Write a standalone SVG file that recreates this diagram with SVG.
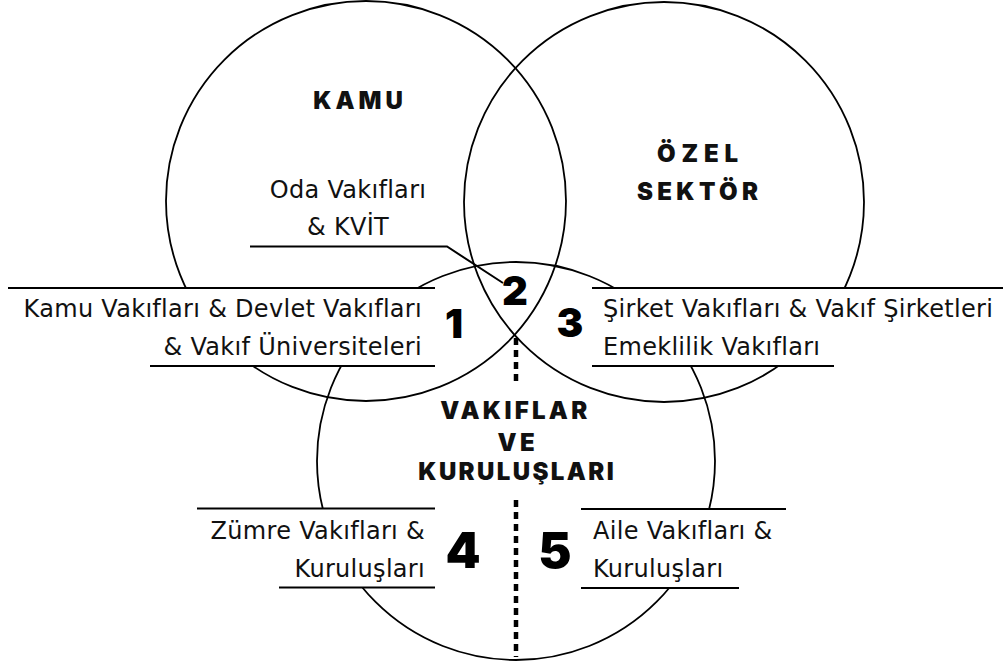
<svg xmlns="http://www.w3.org/2000/svg" width="1003" height="666" viewBox="0 0 1003 666">
<style>
.c{fill:none;stroke:#000;stroke-width:1.8}
.band{fill:#fff;stroke:none}
.r{fill:none;stroke:#000;stroke-width:2}
.t{font-family:"DejaVu Sans","Open Sans",sans-serif;font-weight:400;font-size:24px;letter-spacing:0.3px;fill:#111}
.h{font-family:Inter,"Liberation Sans",sans-serif;font-weight:900;font-size:24px;fill:#111;text-anchor:middle}
.n{font-family:Inter,"Liberation Sans",sans-serif;font-weight:900;font-size:40px;fill:#000;text-anchor:middle}
.n2{font-family:Inter,"Liberation Sans",sans-serif;font-weight:900;font-size:50px;fill:#000;text-anchor:middle}
.d{fill:none;stroke:#000;stroke-width:4.5;stroke-dasharray:7 5}
</style>
<rect width="1003" height="666" fill="#fff"/>
<g id="circles">
<circle id="kamu" class="c" cx="366" cy="201" r="200"/>
<circle id="ozel" class="c" cx="664" cy="202" r="200"/>
<circle id="vakiflar" class="c" cx="516" cy="461" r="199"/>
</g>
<g id="connectors">
<rect class="band" x="8" y="288" width="427" height="78"/>
<rect class="band" x="592" y="288" width="411" height="78"/>
<rect class="band" x="197" y="509" width="238" height="79"/>
<rect class="band" x="581" y="509" width="205" height="79"/>
<path class="r" d="M250,246.5 H447 L503,283"/>
<line class="r" x1="8" y1="288" x2="435" y2="288"/>
<line class="r" x1="150" y1="366" x2="435" y2="366"/>
<line class="r" x1="592" y1="288" x2="1003" y2="288"/>
<line class="r" x1="592" y1="366" x2="834" y2="366"/>
<line class="r" x1="197" y1="508.5" x2="435" y2="508.5"/>
<line class="r" x1="279" y1="587.5" x2="435" y2="587.5"/>
<line class="r" x1="581" y1="509" x2="786" y2="509"/>
<line class="r" x1="581" y1="588" x2="739" y2="588"/>
<line class="d" x1="516" y1="338" x2="516" y2="382"/>
<line class="d" x1="516" y1="500" x2="516" y2="657"/>
</g>
<g id="label-kamu"><text class="h" x="360" y="109" style="letter-spacing:4px">KAMU</text></g>
<g id="label-ozel"><text class="h" x="700.4" y="162" style="letter-spacing:5.8px">ÖZEL</text><text class="h" x="699.7" y="200" style="letter-spacing:4.4px">SEKTÖR</text></g>
<g id="label-vakiflar"><text class="h" x="515.4" y="419" style="letter-spacing:3.3px">VAKIFLAR</text><text class="h" x="517.7" y="451" style="letter-spacing:3.3px">VE</text><text class="h" x="517.2" y="480" style="letter-spacing:2.4px">KURULUŞLARI</text></g>
<g id="node-2"><text class="t" x="348" y="198" text-anchor="middle">Oda Vakıfları</text><text class="t" x="348" y="235" text-anchor="middle">&amp; KVİT</text><text class="n" x="515" y="305">2</text></g>
<g id="node-1"><text class="t" x="422" y="317" text-anchor="end">Kamu Vakıfları &amp; Devlet Vakıfları</text><text class="t" x="422" y="355" text-anchor="end">&amp; Vakıf Üniversiteleri</text><text class="n" x="454" y="338">1</text></g>
<g id="node-3"><text class="t" x="603" y="317">Şirket Vakıfları &amp; Vakıf Şirketleri</text><text class="t" x="603" y="355">Emeklilik Vakıfları</text><text class="n" x="570" y="337">3</text></g>
<g id="node-4"><text class="t" x="425" y="539" text-anchor="end">Zümre Vakıfları &amp;</text><text class="t" x="425" y="577" text-anchor="end">Kuruluşları</text><text class="n2" x="463" y="568">4</text></g>
<g id="node-5"><text class="t" x="593" y="539">Aile Vakıfları &amp;</text><text class="t" x="593" y="577">Kuruluşları</text><text class="n2" x="555" y="568">5</text></g>
</svg>
